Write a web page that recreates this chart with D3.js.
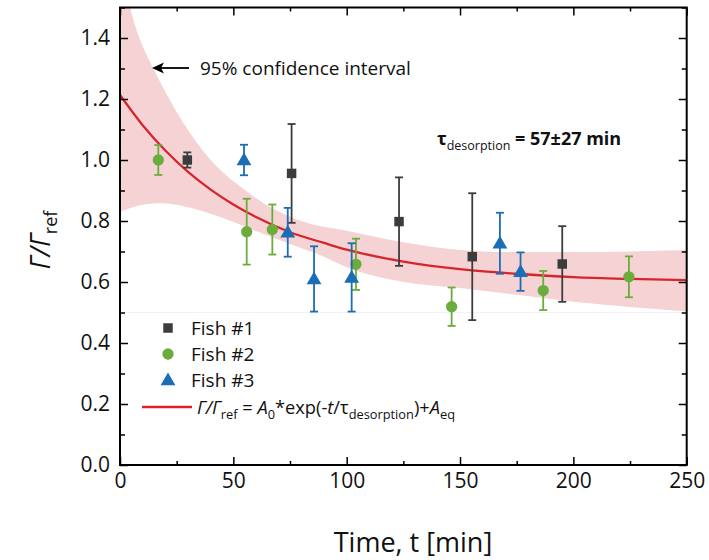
<!DOCTYPE html>
<html><head><meta charset="utf-8">
<script src="https://cdn.jsdelivr.net/npm/d3@7"></script>
<style>body{margin:0;background:#fff;} svg{display:block;font-family:"Open Sans",sans-serif;}</style>
</head><body>
<svg id="chart" width="709" height="560"></svg>
<script>
// ---- data ----
const fish1T = [29.7, 75.7, 123.1, 155.4, 195.1];
const fish1V = [1.00, 0.956, 0.798, 0.683, 0.659];
const fish1E = [0.025, 0.162, 0.145, 0.208, 0.124];

const fish2T = [16.9, 55.9, 67.2, 104.1, 146.3, 186.7, 224.5];
const fish2V = [1.00, 0.765, 0.772, 0.658, 0.519, 0.572, 0.617];
const fish2E = [0.049, 0.108, 0.082, 0.084, 0.063, 0.064, 0.067];

const fish3T = [54.7, 74.0, 85.6, 102.2, 167.6, 176.7];
const fish3V = [1.00, 0.763, 0.610, 0.615, 0.727, 0.634];
const fish3E = [0.05, 0.08, 0.107, 0.112, 0.10, 0.063];

// fitted curve and 95% confidence band
const fitT = [0, 10, 20, 30, 40, 50, 60, 75, 90, 100, 125, 150, 175, 200, 225, 250];
const fitV = [1.213, 1.114, 1.031, 0.961, 0.903, 0.854, 0.813, 0.763, 0.728, 0.706, 0.667, 0.642, 0.627, 0.616, 0.610, 0.606];
const bandUpT = [0, 5.9, 9.1, 14.7, 22, 30, 40, 53, 66, 82, 100, 125, 150, 175, 200, 225, 250];
const bandUpV = [1.66, 1.46, 1.39, 1.30, 1.197, 1.098, 1.0, 0.913, 0.847, 0.795, 0.768, 0.73, 0.705, 0.698, 0.698, 0.70, 0.705];
const bandLoT = [0, 9, 18, 29, 44, 59, 74, 88, 100, 125, 150, 175, 200, 225, 250];
const bandLoV = [0.83, 0.852, 0.858, 0.847, 0.814, 0.77, 0.727, 0.689, 0.648, 0.600, 0.580, 0.558, 0.535, 0.518, 0.503];

const xTicks = [0, 50, 100, 150, 200, 250];
const xMinor = [25, 75, 125, 175, 225];
const yTicks = [0.0, 0.2, 0.4, 0.6, 0.8, 1.0, 1.2, 1.4];
const yMinor = [0.1, 0.3, 0.5, 0.7, 0.9, 1.1, 1.3, 1.5];

const colors = {f1: "#3c3c3c", f2: "#6aad3d", f3: "#1b6db5", fit: "#d7262b", band: "#f5d3d5"};

// ---- drawing ----
const svg = d3.select("#chart");
const L = 120, R = 686.7, T = 7.5, B = 465;
const x = d3.scaleLinear().domain([0, 250]).range([L, R]);
const y = d3.scaleLinear().domain([0, 1.5]).range([B, T]);

svg.append("defs").append("clipPath").attr("id", "clip")
  .append("rect").attr("x", L).attr("y", T).attr("width", R - L).attr("height", B - T);

const plot = svg.append("g").attr("clip-path", "url(#clip)");

// band
const upper = bandUpT.map((t, i) => [t, bandUpV[i]]);
const lower = bandLoT.map((t, i) => [t, bandLoV[i]]);
const lineGen = d3.line().x(d => x(d[0])).y(d => y(d[1])).curve(d3.curveMonotoneX);
const bandPath = lineGen(upper) + "L" + lineGen(lower.slice().reverse()).slice(1) + "Z";
plot.append("path").attr("d", bandPath).attr("fill", colors.band).attr("stroke", "none");

// legend background (white box covering lower area)
plot.append("rect").attr("x", L).attr("y", y(0.5)).attr("width", R - L).attr("height", B - y(0.5)).attr("fill", "#fff");
plot.append("line").attr("x1", L).attr("x2", R).attr("y1", y(0.5)).attr("y2", y(0.5)).attr("stroke", "#f2f2f2").attr("stroke-width", 1);

// fit curve
plot.append("path").attr("d", lineGen(fitT.map((t, i) => [t, fitV[i]])))
  .attr("fill", "none").attr("stroke", colors.fit).attr("stroke-width", 2.3);

// axes (frame + ticks)
const axG = svg.append("g");
function addAxis(axis, transform, ticks, size) {
  const g = axG.append("g").attr("transform", transform)
    .call(axis.tickValues(ticks).tickSize(size).tickFormat(""));
  g.select(".domain").remove();
  g.selectAll(".tick line").attr("stroke", "#000").attr("stroke-width", 1.5);
}
addAxis(d3.axisBottom(x), `translate(0,${B})`, xTicks, -8);
addAxis(d3.axisBottom(x), `translate(0,${B})`, xMinor, -4);
addAxis(d3.axisTop(x), `translate(0,${T})`, xTicks, -8);
addAxis(d3.axisTop(x), `translate(0,${T})`, xMinor, -4);
addAxis(d3.axisLeft(y), `translate(${L},0)`, yTicks, -8);
addAxis(d3.axisLeft(y), `translate(${L},0)`, yMinor, -5);
addAxis(d3.axisRight(y), `translate(${R},0)`, yTicks, -8);
addAxis(d3.axisRight(y), `translate(${R},0)`, yMinor, -5);

axG.append("rect").attr("x", L).attr("y", T).attr("width", R - L).attr("height", B - T)
  .attr("fill", "none").attr("stroke", "#000").attr("stroke-width", 2);

// tick labels
const xl = d3.axisBottom(x).tickValues(xTicks).tickSize(0).tickPadding(8).tickFormat(d3.format("d"));
const gx = svg.append("g").attr("transform", `translate(0,${B})`).call(xl);
gx.select(".domain").remove();
gx.selectAll("text").attr("font-size", 21).attr("font-family", "Open Sans").attr("fill", "#111");
const yl = d3.axisLeft(y).tickValues(yTicks).tickSize(0).tickPadding(10).tickFormat(d3.format(".1f"));
const gy = svg.append("g").attr("transform", `translate(${L},0)`).call(yl);
gy.select(".domain").remove();
gy.selectAll("text").attr("font-size", 21).attr("font-family", "Open Sans").attr("fill", "#111");

// data points with error bars
function drawSeries(T_, V_, E_, color, shape) {
  const g = svg.append("g");
  T_.forEach((t, i) => {
    const cx = x(t), v = V_[i], e = E_[i];
    g.append("line").attr("x1", cx).attr("x2", cx).attr("y1", y(v - e)).attr("y2", y(v + e))
      .attr("stroke", color).attr("stroke-width", 1.8);
    [v - e, v + e].forEach(b => g.append("line").attr("x1", cx - 4).attr("x2", cx + 4)
      .attr("y1", y(b)).attr("y2", y(b)).attr("stroke", color).attr("stroke-width", 1.8));
  });
  const sym = d3.symbol().type(shape === "square" ? d3.symbolSquare : shape === "circle" ? d3.symbolCircle : d3.symbolTriangle)
    .size(shape === "square" ? 90 : shape === "circle" ? 100 : 95);
  T_.forEach((t, i) => {
    g.append("path").attr("d", sym()).attr("fill", color)
      .attr("transform", `translate(${x(t)},${y(V_[i]) + (shape === "triangle" ? 1 : 0)})`);
  });
}
drawSeries(fish1T, fish1V, fish1E, colors.f1, "square");
drawSeries(fish2T, fish2V, fish2E, colors.f2, "circle");
drawSeries(fish3T, fish3V, fish3E, colors.f3, "triangle");

// annotation: 95% confidence interval
svg.append("line").attr("x1", 189).attr("x2", 160).attr("y1", 68).attr("y2", 68)
  .attr("stroke", "#000").attr("stroke-width", 1.8);
svg.append("path").attr("d", "M152,68 L164,62.5 L161,68 L164,73.5 Z").attr("fill", "#000");
svg.append("text").attr("x", 200).attr("y", 75).attr("font-size", 19).attr("fill", "#111")
  .text("95% confidence interval");

// tau annotation
const tau = svg.append("text").attr("x", 437).attr("y", 145).attr("font-size", 18).attr("font-weight", "bold").attr("fill", "#111");
tau.append("tspan").text("τ");
tau.append("tspan").attr("font-size", 12.5).attr("font-weight", "normal").attr("dy", 5).text("desorption");
tau.append("tspan").attr("dy", -5).text(" = 57±27 min");

// legend
const leg = svg.append("g");
const legItems = [["Fish #1", colors.f1, d3.symbolSquare, 90], ["Fish #2", colors.f2, d3.symbolCircle, 100], ["Fish #3", colors.f3, d3.symbolTriangle, 95]];
legItems.forEach((it, i) => {
  const cy = 328 + i * 26;
  leg.append("path").attr("d", d3.symbol().type(it[2]).size(it[3])()).attr("fill", it[1])
    .attr("transform", `translate(168,${cy + (i === 2 ? 1 : 0)})`);
  leg.append("text").attr("x", 191).attr("y", cy + 7).attr("font-size", 19).attr("fill", "#111").text(it[0]);
});
leg.append("line").attr("x1", 142).attr("x2", 192).attr("y1", 407).attr("y2", 407).attr("stroke", colors.fit).attr("stroke-width", 2.3);
const ft = leg.append("text").attr("x", 197).attr("y", 414).attr("font-size", 18.5).attr("fill", "#111")
  .attr("textLength", 258).attr("lengthAdjust", "spacingAndGlyphs");
ft.append("tspan").attr("font-style", "italic").text("Γ/Γ");
ft.append("tspan").attr("font-size", 13).attr("dy", 5).text("ref");
ft.append("tspan").attr("dy", -5).text(" = ");
ft.append("tspan").attr("font-style", "italic").text("A");
ft.append("tspan").attr("font-size", 13).attr("dy", 5).text("0");
ft.append("tspan").attr("dy", -5).text("*exp(-");
ft.append("tspan").attr("font-style", "italic").text("t");
ft.append("tspan").text("/τ");
ft.append("tspan").attr("font-size", 13).attr("dy", 5).text("desorption");
ft.append("tspan").attr("dy", -5).text(")+");
ft.append("tspan").attr("font-style", "italic").text("A");
ft.append("tspan").attr("font-size", 13).attr("dy", 5).text("eq");

// axis titles
svg.append("text").attr("x", 413).attr("y", 552).attr("text-anchor", "middle")
  .attr("font-size", 27).attr("fill", "#111").text("Time, t [min]");
const yt = svg.append("text").attr("transform", "translate(50,240) rotate(-90)").attr("text-anchor", "middle")
  .attr("font-size", 27).attr("fill", "#111");
yt.append("tspan").attr("font-style", "italic").text("Γ/Γ");
yt.append("tspan").attr("font-size", 18).attr("dy", 7).text("ref");
</script>
</body></html>
